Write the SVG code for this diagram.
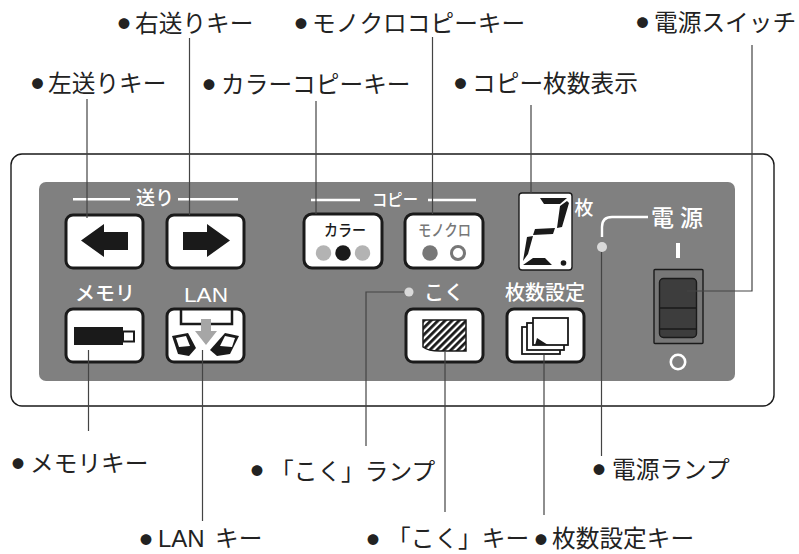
<svg xmlns="http://www.w3.org/2000/svg" width="799" height="554" viewBox="0 0 799 554">
<style>
text{font-family:"Noto Sans CJK JP","Noto Sans",sans-serif}
.lb{font-size:23.7px;fill:#222;font-weight:400}
.b{font-size:12px}
.w{fill:#fff;font-weight:500}
.key{fill:#fff;stroke:#1a1a1a;stroke-width:3}
.k{fill:#1a1a1a}
.ln{fill:none;stroke:#444;stroke-width:1.2}
.wl{fill:none;stroke:#fff;stroke-width:2.4}
</style>
<defs><pattern id="ht" width="5" height="5" patternUnits="userSpaceOnUse" patternTransform="rotate(45)"><rect width="5" height="5" fill="#fff"/><rect width="2.800" height="5" fill="#1a1a1a"/></pattern></defs>
<g id="panel">
<rect x="11" y="154" width="763" height="252" rx="11" fill="#fff" stroke="#1a1a1a" stroke-width="1.4"/>
<rect x="39" y="182" width="696" height="199" rx="7" fill="#808080"/>
</g>
<g id="group-labels">
<path class="wl" d="M73 199.300H130M178 199.300H238M311 200H360M428 200H476"/>
<text class="w" x="136" y="205" font-size="19">送り</text>
<text class="w" x="372" y="206" font-size="17" textLength="46" lengthAdjust="spacingAndGlyphs">コピー</text>
<text class="w" x="75" y="301" font-size="20">メモリ</text>
<text class="w" x="184" y="302" font-size="21" textLength="44" lengthAdjust="spacingAndGlyphs" style="font-family:'Liberation Sans',sans-serif;font-weight:400">LAN</text>
<text class="w" x="424" y="300" font-size="20">こく</text>
<text class="w" x="505" y="300" font-size="20">枚数設定</text>
<text class="w" x="574.500" y="215" font-size="19">枚</text>
<text class="w" x="651" y="226" font-size="23">電</text><text class="w" x="680" y="226" font-size="23">源</text>
<path class="wl" d="M602 237V227Q602 217 612 217H648"/>
</g>
<g id="key-left"><rect class="key" x="66" y="215" width="77" height="53" rx="7"/><path class="k" d="M81 240.500L104 224V232H128V250H104V257Z"/></g>
<g id="key-right"><rect class="key" x="167" y="215" width="77" height="53" rx="7"/><path class="k" d="M230 240.500L207 224V232H183V250H207V257Z"/></g>
<g id="key-memory"><rect class="key" x="66" y="309" width="77" height="53" rx="7"/><rect class="k" x="74" y="327" width="49" height="18"/><rect x="123" y="331.500" width="11" height="10" fill="#fff" stroke="#1a1a1a" stroke-width="2"/></g>
<g id="key-lan"><rect class="key" x="167" y="309" width="77" height="53" rx="7"/>
<path d="M181 310V324H232V310" fill="none" stroke="#1a1a1a" stroke-width="2.500"/>
<path d="M201 319H211V331H217L206 345L195 331H201Z" fill="#a6a6a6"/>
<path class="k" d="M172 336L188 333L196 348L189 356L178 354Z"/><path d="M176 338L186 336L190 346L179 347Z" fill="#fff"/>
<path class="k" d="M239 336L225 333L210 350L217 356L230 354Z"/><path d="M235 338L225 336L220 346L232 347Z" fill="#fff"/></g>
<g id="key-color"><rect class="key" x="304" y="214" width="78" height="54" rx="8" stroke-width="3.500"/><text x="324" y="236" font-size="16" font-weight="500" fill="#1a1a1a" textLength="42" lengthAdjust="spacingAndGlyphs">カラー</text><circle cx="323.500" cy="253" r="7.700" fill="#b3b3b3"/><circle cx="343" cy="253" r="7.700" fill="#1a1a1a"/><circle cx="362.500" cy="253" r="7.700" fill="#b3b3b3"/></g>
<g id="key-mono"><rect class="key" x="405" y="214" width="78" height="54" rx="8" stroke-width="3.500"/><text x="418" y="236" font-size="16" font-weight="500" fill="#777" textLength="53" lengthAdjust="spacingAndGlyphs">モノクロ</text><circle cx="430" cy="253" r="7.700" fill="#777"/><circle cx="458" cy="253" r="6.500" fill="#fff" stroke="#777" stroke-width="3"/></g>
<g id="key-koku"><rect class="key" x="406" y="309" width="77" height="53" rx="7"/>
<path d="M423 320H466V351H440Q428 351 423 347Z" fill="url(#ht)" stroke="#1a1a1a" stroke-width="1.500"/></g>
<g id="key-count"><rect class="key" x="507" y="309" width="77" height="53" rx="7"/>
<rect x="522" y="327" width="38" height="27" fill="#fff" stroke="#1a1a1a" stroke-width="1.800"/><rect x="527" y="323" width="37" height="27" fill="#fff" stroke="#1a1a1a" stroke-width="1.800"/><rect x="533" y="318" width="35" height="27" fill="#fff" stroke="#1a1a1a" stroke-width="1.800"/><path class="k" d="M535 345L537 338L548 345Z"/></g>
<g id="display"><rect x="519" y="193" width="53" height="77" rx="3" fill="#fff" stroke="#1a1a1a" stroke-width="1.400"/>
<path class="k" d="M540 198H567L560 204H544ZM567 201L569 203L562 227L557 228L560 206ZM535 229L555 228L553 234L533 235ZM527 237L533 236L528 254L523 261ZM533 258H545L552 265H523Z"/><circle cx="563.500" cy="263" r="2.800" fill="#1a1a1a"/></g>
<g id="switch"><rect x="654" y="269.500" width="49" height="74" rx="1" fill="#777" stroke="#1a1a1a" stroke-width="1.400"/><rect x="659.500" y="278.500" width="37" height="59" rx="4" fill="#3d3d3d" stroke="#1a1a1a" stroke-width="1.400"/><path d="M660 308H696M660 329H696" stroke="#1a1a1a" stroke-width="1.400"/>
<rect x="676" y="243" width="4" height="15" fill="#fff"/><circle cx="678" cy="362" r="7.200" fill="none" stroke="#fff" stroke-width="2.600"/></g>
<g id="lamps"><circle cx="409" cy="292" r="4.500" fill="#d9d9d9"/><circle cx="602" cy="247" r="5" fill="#d9d9d9"/></g>
<g id="connectors">
<path class="ln" d="M87 99V218M189.500 38V215M88.500 350V431M202.500 350V521M316 101V214M432.500 37V214M531 105V193M366 446V292H404M445 352V512M544 355V515M601.500 252V456M687 291H752V45"/>
</g>
<g id="labels">
<text class="lb"><tspan class="b" x="118" y="28.500">●</tspan><tspan x="135" y="32">右送りキー</tspan></text>
<text class="lb"><tspan class="b" x="295" y="28.500">●</tspan><tspan x="312" y="32">モノクロコピーキー</tspan></text>
<text class="lb"><tspan class="b" x="636.500" y="27.500">●</tspan><tspan x="654" y="31">電源スイッチ</tspan></text>
<text class="lb"><tspan class="b" x="31.500" y="88.500">●</tspan><tspan x="48" y="92">左送りキー</tspan></text>
<text class="lb"><tspan class="b" x="203" y="89.500">●</tspan><tspan x="221" y="93">カラーコピーキー</tspan></text>
<text class="lb"><tspan class="b" x="454.500" y="88.500">●</tspan><tspan x="472" y="92">コピー枚数表示</tspan></text>
<text class="lb"><tspan class="b" x="12" y="468.500">●</tspan><tspan x="30" y="472">メモリキー</tspan></text>
<text class="lb"><tspan class="b" x="251" y="475.500">●</tspan><tspan x="270" y="480">「こく」ランプ</tspan></text>
<text class="lb"><tspan class="b" x="593" y="474.500">●</tspan><tspan x="612" y="478">電源ランプ</tspan></text>
<text class="lb"><tspan class="b" x="140" y="544.500">●</tspan><tspan x="158" y="547" style="font-family:'Liberation Sans',sans-serif;font-size:24px">LAN</tspan><tspan x="215" y="547">キー</tspan></text>
<text class="lb"><tspan class="b" x="367" y="544.500">●</tspan><tspan x="387" y="547">「こく」キー</tspan></text>
<text class="lb"><tspan class="b" x="535" y="544.500">●</tspan><tspan x="552" y="547">枚数設定キー</tspan></text>
</g>
</svg>
